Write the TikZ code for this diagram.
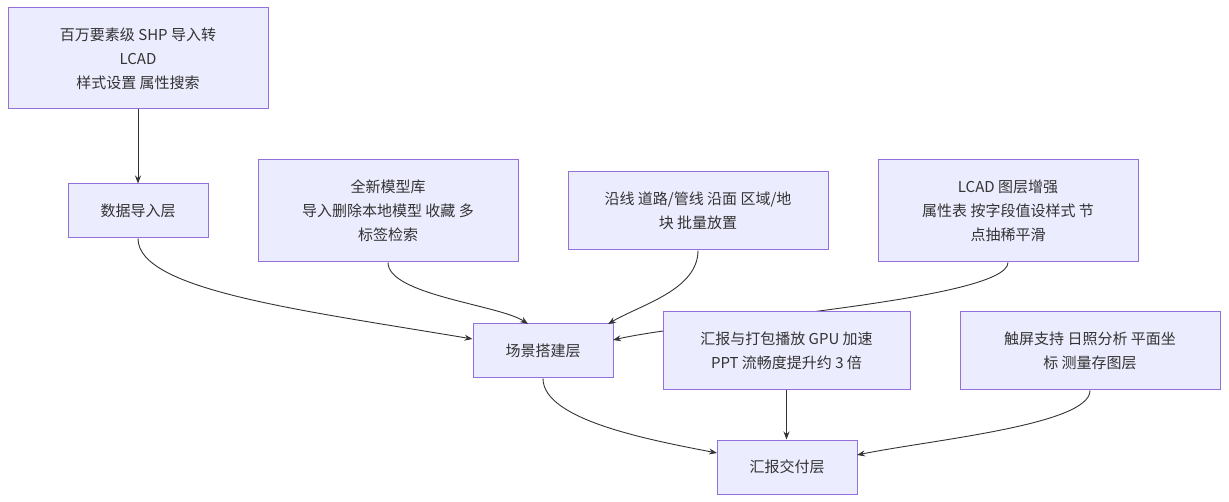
\documentclass[tikz,border=0pt]{standalone}
\usepackage{fontspec}
\setmainfont{Noto Sans CJK SC}
\usetikzlibrary{arrows.meta}
\definecolor{nfill}{HTML}{ECECFF}
\definecolor{nline}{HTML}{9370DB}
\definecolor{eline}{HTML}{333333}
\begin{document}
\begin{tikzpicture}[x=1pt,y=-1pt,
  box/.style={draw=nline,fill=nfill,line width=1pt,align=center,inner sep=0pt,font=\fontsize{15}{24}\selectfont,text=eline},
  edge/.style={draw=eline,line width=0.9pt,-{Stealth[length=8pt,width=6pt]}}]
\useasboundingbox (0,0) rectangle (1229,502);
\node[box,minimum width=260,minimum height=101] (A) at (138,58.5) {百万要素级 SHP 导入转\\LCAD\\样式设置 属性搜索};
\node[box,minimum width=140,minimum height=54] (B) at (138,211) {数据导入层};
\node[box,minimum width=260,minimum height=102] (C) at (388,211) {全新模型库\\导入删除本地模型 收藏 多\\标签检索};
\node[box,minimum width=260,minimum height=78] (D) at (698,211) {沿线 道路/管线 沿面 区域/地\\块 批量放置};
\node[box,minimum width=260,minimum height=102] (E) at (1008,211) {LCAD 图层增强\\属性表 按字段值设样式 节\\点抽稀平滑};
\node[box,minimum width=140,minimum height=54] (F) at (543,351) {场景搭建层};
\node[box,minimum width=140,minimum height=54] (I) at (787,467) {汇报交付层};
\draw[edge] (A) -- (B);
\draw[edge] (B.south) .. controls (138,290) and (300,310) .. (F.west|-0,339);
\draw[edge] (C.south) .. controls (388,295) and (500,305) .. (528,324);
\draw[edge] (D.south) .. controls (698,290) and (640,305) .. (608,324);
\draw[edge] (E.south) .. controls (1008,300) and (700,320) .. (613,340);
\node[box,minimum width=247,minimum height=78] (G) at (786.5,351) {汇报与打包播放 GPU 加速\\PPT 流畅度提升约 3 倍};
\node[box,minimum width=260,minimum height=78] (H) at (1090,351) {触屏支持 日照分析 平面坐\\标 测量存图层};
\draw[edge] (F.south) .. controls (543,420) and (650,440) .. (717,453);
\draw[edge] (G.south) -- (I.north-|G.south);
\draw[edge] (H.south) .. controls (1090,425) and (930,440) .. (857,455);
\end{tikzpicture}
\end{document}
